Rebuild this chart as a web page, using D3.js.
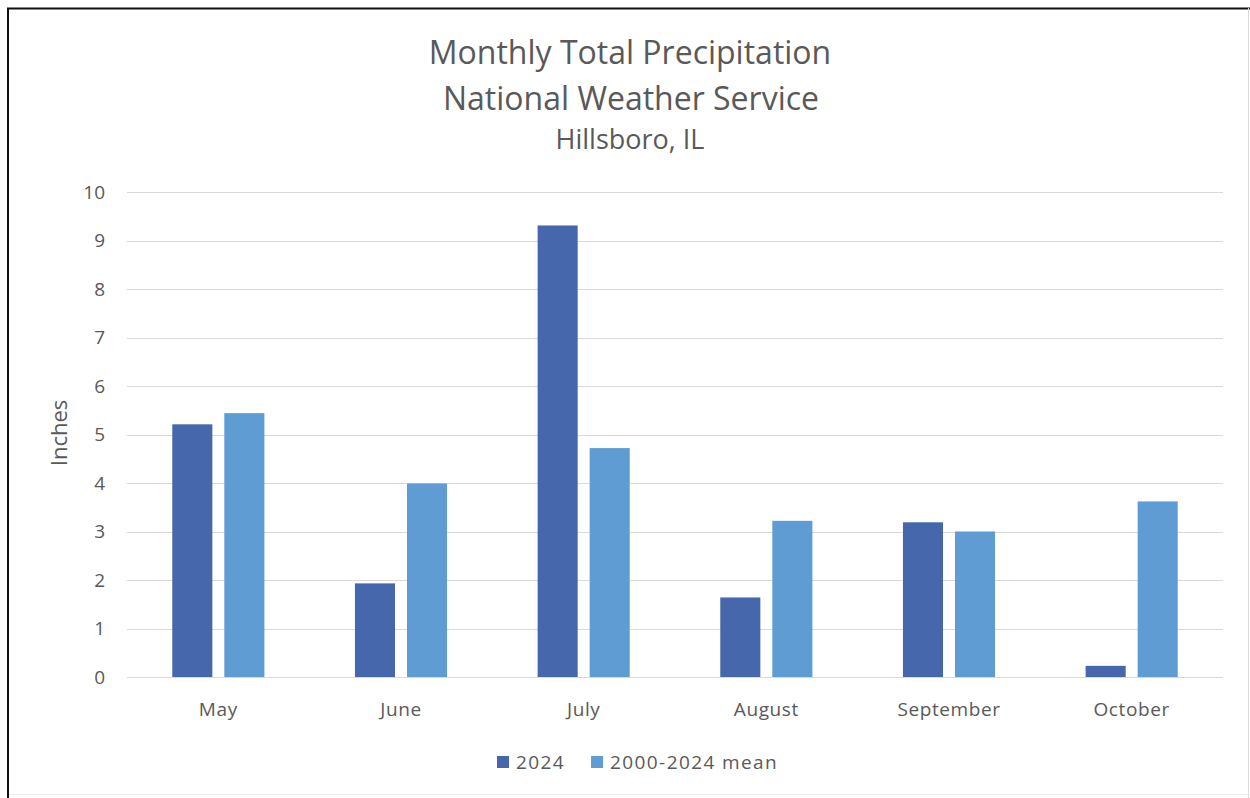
<!DOCTYPE html>
<html>
<head>
<meta charset="utf-8">
<script src="https://cdn.jsdelivr.net/npm/d3@7"></script>
<style>
  html, body { margin: 0; padding: 0; background: #fff; }
  svg { display: block; }
  text { font-family: "Open Sans", "Noto Sans", sans-serif; fill: #595959; }
</style>
</head>
<body>
<svg id="chart" width="1250" height="798"></svg>
<script>
// Monthly precipitation, Hillsboro, IL (inches)
const months = ["May", "June", "July", "August", "September", "October"];
const seriesNames = ["2024", "2000-2024 mean"];
const values2024 = [5.21, 1.93, 9.31, 1.64, 3.19, 0.23];
const valuesMean = [5.44, 3.99, 4.72, 3.22, 3.00, 3.62];
const yTicks = [0, 1, 2, 3, 4, 5, 6, 7, 8, 9, 10];
const colors = ["#4767ad", "#5e9cd3"];

const svg = d3.select("#chart");
const W = 1250, H = 798;

// chart frame
svg.append("rect").attr("x", 0).attr("y", 0).attr("width", W).attr("height", H).attr("fill", "#fff");
svg.append("line").attr("x1", 7).attr("x2", W).attr("y1", 8.5).attr("y2", 8.5)
  .attr("stroke", "#111").attr("stroke-width", 2);
svg.append("line").attr("x1", 8).attr("x2", 8).attr("y1", 8).attr("y2", H)
  .attr("stroke", "#111").attr("stroke-width", 2);
svg.append("line").attr("x1", W - 1.5).attr("x2", W - 1.5).attr("y1", 8).attr("y2", H)
  .attr("stroke", "#d9d9d9").attr("stroke-width", 1);
svg.append("line").attr("x1", 9).attr("x2", W).attr("y1", H - 3.5).attr("y2", H - 3.5)
  .attr("stroke", "#eeeeee").attr("stroke-width", 1);

const plot = { left: 127, right: 1223, top: 192, bottom: 677 };

const x0 = d3.scaleBand().domain(months).range([plot.left, plot.right]).paddingInner(0).paddingOuter(0);
const x1 = d3.scaleBand().domain(seriesNames).range([0, x0.bandwidth()]).paddingInner(0.23).paddingOuter(0.87);
const y = d3.scaleLinear().domain([0, 10]).range([plot.bottom, plot.top]);

// gridlines
svg.append("g")
  .selectAll("line").data(yTicks).join("line")
  .attr("x1", plot.left).attr("x2", plot.right)
  .attr("y1", d => Math.round(y(d)) + 0.5).attr("y2", d => Math.round(y(d)) + 0.5)
  .attr("stroke", "#d9d9d9").attr("stroke-width", 1);

// y axis tick labels
const yAxis = d3.axisLeft(y).tickValues(yTicks).tickSize(0).tickPadding(0);
const yg = svg.append("g").attr("transform", `translate(105,0)`).call(yAxis);
yg.select(".domain").remove();
yg.selectAll("text").attr("font-size", 19).attr("fill", "#595959")
  .style("font-family", "'Open Sans', sans-serif");

// x axis labels
const xAxis = d3.axisBottom(x0).tickSize(0).tickPadding(0);
const xg = svg.append("g").attr("transform", `translate(0,${plot.bottom + 25})`).call(xAxis);
xg.select(".domain").remove();
xg.selectAll("text").attr("font-size", 19).attr("fill", "#595959")
  .attr("letter-spacing", 0.6)
  .style("font-family", "'Open Sans', sans-serif");

// bars
const rows = months.map((m, i) => ({ month: m, vals: [values2024[i], valuesMean[i]] }));
svg.append("g").selectAll("g").data(rows).join("g")
  .attr("transform", d => `translate(${x0(d.month)},0)`)
  .selectAll("rect").data(d => d.vals.map((v, j) => ({ key: seriesNames[j], v, j })))
  .join("rect")
  .attr("x", d => x1(d.key))
  .attr("width", x1.bandwidth())
  .attr("y", d => y(d.v))
  .attr("height", d => y(0) - y(d.v))
  .attr("fill", d => colors[d.j]);

// titles
svg.append("text").attr("x", 630).attr("y", 64).attr("text-anchor", "middle")
  .attr("font-size", 32).text("Monthly Total Precipitation");
svg.append("text").attr("x", 631).attr("y", 110).attr("text-anchor", "middle")
  .attr("font-size", 32).text("National Weather Service");
svg.append("text").attr("x", 630).attr("y", 149).attr("text-anchor", "middle")
  .attr("font-size", 27).text("Hillsboro, IL");

// y axis title
svg.append("text").attr("transform", "translate(67,433) rotate(-90)")
  .attr("text-anchor", "middle").attr("font-size", 22).text("Inches");

// legend
const legend = svg.append("g").attr("transform", "translate(497,762)");
let lx = 0;
seriesNames.forEach((name, i) => {
  const g = legend.append("g").attr("transform", `translate(${lx},0)`);
  g.append("rect").attr("x", 0).attr("y", -6).attr("width", 12).attr("height", 12).attr("fill", colors[i]);
  const t = g.append("text").attr("x", 19).attr("y", 7).attr("font-size", 19)
    .attr("letter-spacing", 1.4).text(name);
  lx += 19 + t.node().getComputedTextLength() + 26;
});
</script>
</body>
</html>
